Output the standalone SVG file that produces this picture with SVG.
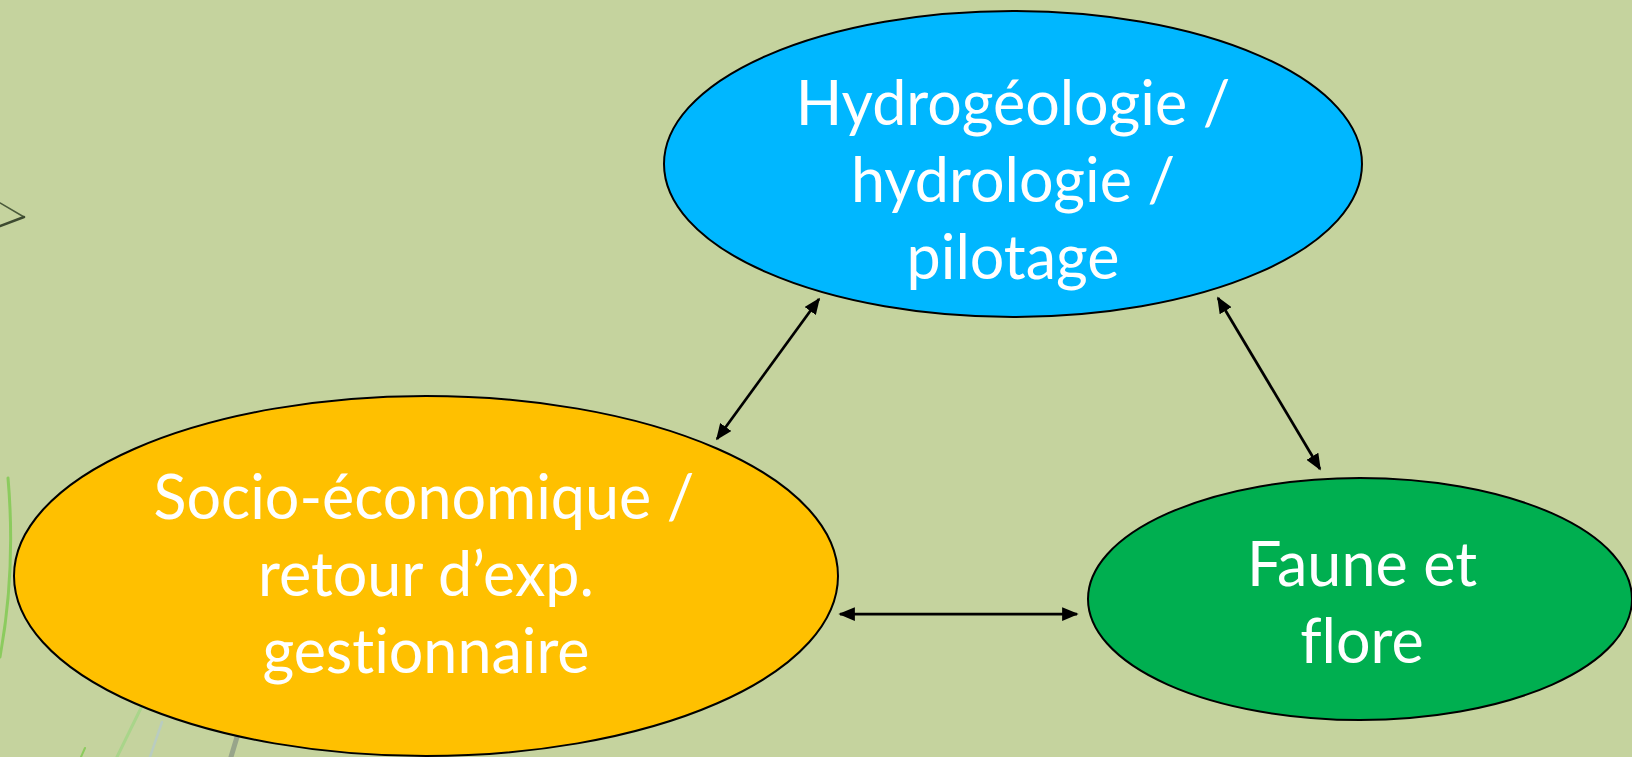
<svg xmlns="http://www.w3.org/2000/svg" width="1632" height="757" viewBox="0 0 1632 757">
<defs>
<style>
.node{stroke:#000;stroke-width:2}
.lbl{font-family:Lato,"Open Sans","Liberation Sans",sans-serif;font-size:61px;fill:#fff;text-anchor:middle;font-variant-ligatures:none}
.con{stroke:#000;stroke-width:2.75;fill:none;marker-start:url(#ah);marker-end:url(#ah)}
</style>
<marker id="ah" viewBox="0 0 10 10" refX="9" refY="5" markerWidth="6" markerHeight="5" orient="auto-start-reverse" markerUnits="strokeWidth" preserveAspectRatio="none">
<path d="M0,0 L10,5 L0,10 Z" fill="#000"/>
</marker>
</defs>
<rect width="1632" height="757" fill="#C5D39E"/>
<g id="decor" fill="none" stroke-linecap="round">
<path d="M0,203 L24,217" stroke="#4a5a3a" stroke-width="1.5"/>
<path d="M24,217 L0,226" stroke="#3d4a30" stroke-width="2.5"/>
<path d="M8,478 Q16,570 0,657" stroke="#8CCB5E" stroke-width="3"/>
<path d="M141,708 L117,757" stroke="#A9D58A" stroke-width="3"/>
<path d="M162,722 L150,757" stroke="#B9CCC0" stroke-width="2.5"/>
<path d="M237,737 L231,757" stroke="#98A58A" stroke-width="5"/>
<path d="M85,748 L81,757" stroke="#8CCB5E" stroke-width="2"/>
</g>
<g id="connectors">
<line class="con" x1="819" y1="299" x2="717" y2="439"/>
<line class="con" x1="1218" y1="298" x2="1320" y2="469"/>
<line class="con" x1="840" y1="614" x2="1077" y2="614"/>
</g>
<g id="hydro">
<ellipse class="node" cx="1013" cy="164" rx="349" ry="153" fill="#00B7FF"/>
<text class="lbl" x="1013" y="125">Hydrogéologie /</text>
<text class="lbl" x="1013" y="202">hydrologie /</text>
<text class="lbl" x="1013" y="279">pilotage</text>
</g>
<g id="socio">
<ellipse class="node" cx="426" cy="576" rx="412" ry="180" fill="#FFC000"/>
<text class="lbl" x="424" y="519">Socio-économique /</text>
<text class="lbl" x="426" y="596">retour d’exp.</text>
<text class="lbl" x="426" y="673">gestionnaire</text>
</g>
<g id="faune">
<ellipse class="node" cx="1360" cy="599" rx="272" ry="121" fill="#00AF50"/>
<text class="lbl" x="1362" y="586">Faune et</text>
<text class="lbl" x="1362" y="663">flore</text>
</g>
</svg>
